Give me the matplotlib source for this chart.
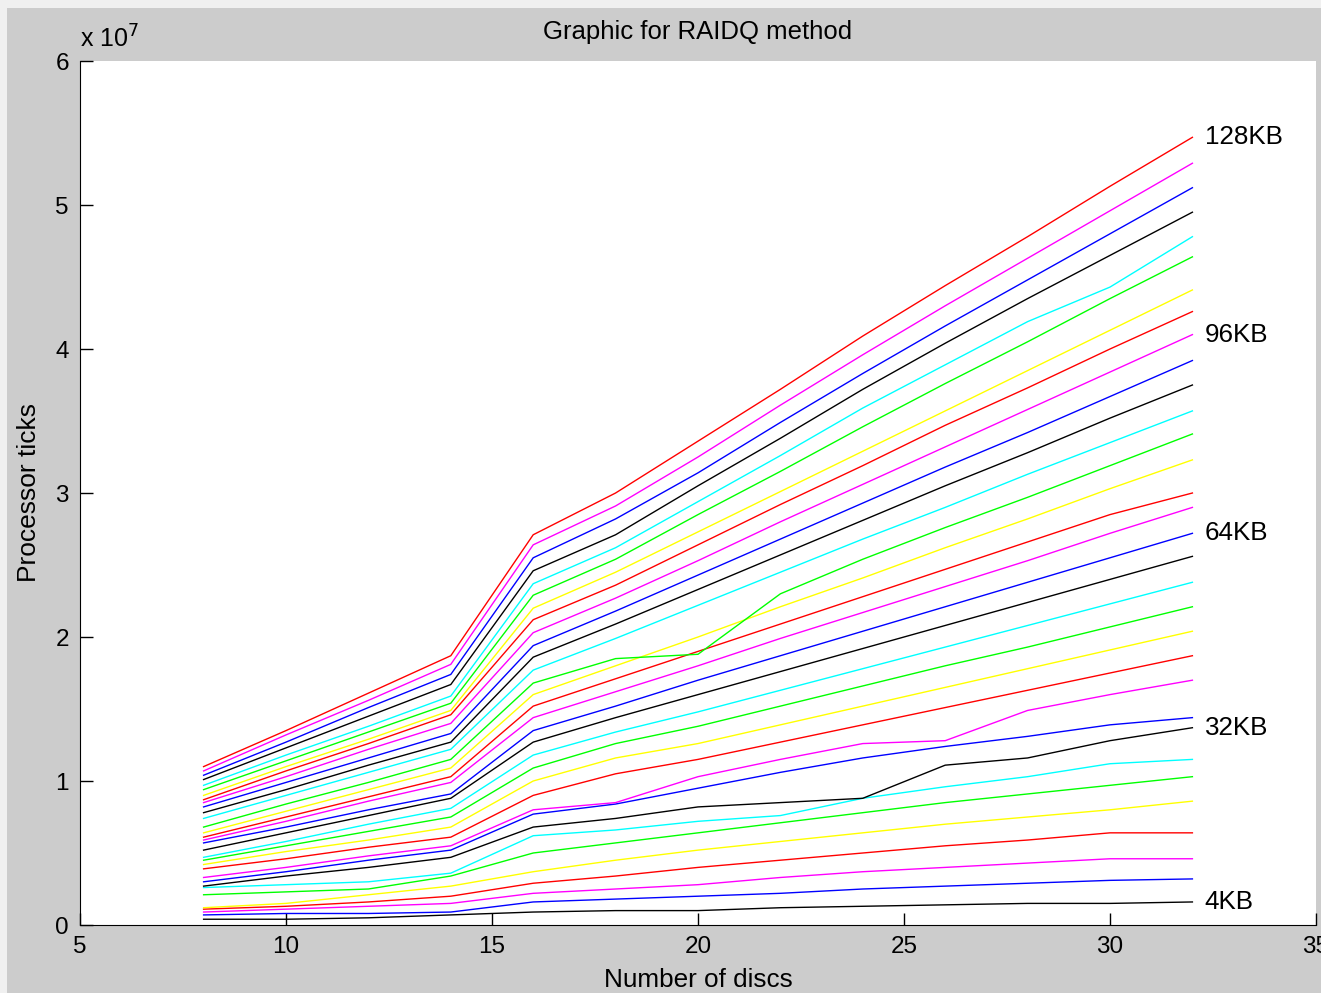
import matplotlib
matplotlib.use('Agg')
import matplotlib.pyplot as plt
from matplotlib.patches import Rectangle

plt.rcParams['font.family'] = ['Liberation Sans', 'DejaVu Sans']
plt.rcParams['font.size'] = 17

# number of discs
discs = [8, 10, 12, 14, 16, 18, 20, 22, 24, 26, 28, 30, 32]

# block sizes 4KB .. 128KB
block_kb = list(range(4, 132, 4))

# processor ticks in units of 1e7, one row per block size (4KB first)
ticks_1e7 = [
    [0.04, 0.04, 0.05, 0.07, 0.09, 0.10, 0.10, 0.12, 0.13, 0.14, 0.15, 0.15, 0.16],
    [0.07, 0.08, 0.08, 0.09, 0.16, 0.18, 0.20, 0.22, 0.25, 0.27, 0.29, 0.31, 0.32],
    [0.09, 0.11, 0.13, 0.15, 0.22, 0.25, 0.28, 0.33, 0.37, 0.40, 0.43, 0.46, 0.46],
    [0.11, 0.13, 0.16, 0.20, 0.29, 0.34, 0.40, 0.45, 0.50, 0.55, 0.59, 0.64, 0.64],
    [0.12, 0.15, 0.21, 0.27, 0.37, 0.45, 0.52, 0.58, 0.64, 0.70, 0.75, 0.80, 0.86],
    [0.21, 0.23, 0.25, 0.34, 0.50, 0.57, 0.64, 0.71, 0.78, 0.85, 0.91, 0.97, 1.03],
    [0.26, 0.28, 0.30, 0.36, 0.62, 0.66, 0.72, 0.76, 0.88, 0.96, 1.03, 1.12, 1.15],
    [0.27, 0.34, 0.40, 0.47, 0.68, 0.74, 0.82, 0.85, 0.88, 1.11, 1.16, 1.28, 1.37],
    [0.30, 0.37, 0.45, 0.52, 0.77, 0.84, 0.95, 1.06, 1.16, 1.24, 1.31, 1.39, 1.44],
    [0.33, 0.40, 0.48, 0.55, 0.80, 0.85, 1.03, 1.15, 1.26, 1.28, 1.49, 1.60, 1.70],
    [0.39, 0.46, 0.54, 0.61, 0.90, 1.05, 1.15, 1.27, 1.39, 1.51, 1.63, 1.75, 1.87],
    [0.42, 0.51, 0.59, 0.68, 1.00, 1.16, 1.26, 1.39, 1.52, 1.65, 1.78, 1.91, 2.04],
    [0.45, 0.55, 0.65, 0.75, 1.09, 1.26, 1.38, 1.52, 1.66, 1.80, 1.93, 2.07, 2.21],
    [0.47, 0.58, 0.70, 0.81, 1.18, 1.34, 1.48, 1.63, 1.78, 1.93, 2.08, 2.23, 2.38],
    [0.52, 0.64, 0.76, 0.88, 1.27, 1.44, 1.60, 1.76, 1.92, 2.08, 2.24, 2.40, 2.56],
    [0.57, 0.68, 0.80, 0.91, 1.35, 1.52, 1.70, 1.87, 2.04, 2.21, 2.38, 2.55, 2.72],
    [0.59, 0.72, 0.86, 0.99, 1.44, 1.62, 1.80, 1.99, 2.17, 2.35, 2.53, 2.72, 2.90],
    [0.61, 0.75, 0.89, 1.03, 1.52, 1.71, 1.90, 2.09, 2.28, 2.47, 2.66, 2.85, 3.00],
    [0.64, 0.79, 0.94, 1.09, 1.60, 1.80, 2.00, 2.21, 2.41, 2.62, 2.82, 3.03, 3.23],
    [0.68, 0.84, 0.99, 1.15, 1.68, 1.85, 1.88, 2.30, 2.54, 2.76, 2.97, 3.19, 3.41],
    [0.74, 0.90, 1.06, 1.22, 1.77, 1.99, 2.22, 2.45, 2.68, 2.90, 3.13, 3.35, 3.57],
    [0.78, 0.94, 1.11, 1.27, 1.86, 2.09, 2.33, 2.57, 2.81, 3.05, 3.28, 3.52, 3.75],
    [0.82, 0.99, 1.16, 1.33, 1.94, 2.18, 2.43, 2.68, 2.93, 3.18, 3.42, 3.67, 3.92],
    [0.85, 1.03, 1.22, 1.40, 2.03, 2.27, 2.53, 2.80, 3.06, 3.32, 3.58, 3.84, 4.10],
    [0.87, 1.07, 1.26, 1.46, 2.12, 2.36, 2.64, 2.92, 3.19, 3.47, 3.73, 4.00, 4.26],
    [0.90, 1.10, 1.29, 1.49, 2.20, 2.45, 2.73, 3.01, 3.29, 3.57, 3.85, 4.13, 4.41],
    [0.94, 1.14, 1.34, 1.54, 2.29, 2.54, 2.85, 3.15, 3.46, 3.76, 4.05, 4.35, 4.64],
    [0.97, 1.18, 1.38, 1.59, 2.37, 2.62, 2.94, 3.26, 3.59, 3.89, 4.19, 4.43, 4.78],
    [1.01, 1.23, 1.45, 1.67, 2.46, 2.71, 3.05, 3.38, 3.72, 4.04, 4.35, 4.65, 4.95],
    [1.04, 1.27, 1.51, 1.74, 2.55, 2.82, 3.14, 3.49, 3.83, 4.16, 4.48, 4.80, 5.12],
    [1.07, 1.32, 1.56, 1.81, 2.64, 2.91, 3.25, 3.61, 3.96, 4.30, 4.63, 4.96, 5.29],
    [1.10, 1.35, 1.61, 1.87, 2.71, 3.00, 3.36, 3.72, 4.09, 4.44, 4.78, 5.13, 5.47],
]

labelled_kb = [4, 32, 64, 96, 128]

# matlab style colour order k b m r y g c
line_colors = ['#000000', '#0000ff', '#ff00ff', '#ff0000', '#ffff00', '#00ff00', '#00ffff']

fig = plt.figure(figsize=(13.21, 9.93), dpi=100)
fig.patch.set_facecolor('#f0f0f0')
fig.patches.append(Rectangle((7 / 1321, 0), 1, (993 - 8) / 993, transform=fig.transFigure,
                             facecolor='#cccccc', edgecolor='none', zorder=-10))

ax = fig.add_axes([80 / 1321, (993 - 925) / 993, 1236 / 1321, 864 / 993])
ax.set_zorder(1)
ax.set_facecolor('white')

for i, row in enumerate(ticks_1e7):
    ax.plot(discs, row, color=line_colors[i % 7], linewidth=1.0)

for kb in labelled_kb:
    i = block_kb.index(kb)
    ax.text(32.3, ticks_1e7[i][-1], f'{kb}KB', va='center', ha='left', fontsize=18.7)

ax.set_xlim(5, 35)
ax.set_ylim(0, 6)
ax.set_xticks([5, 10, 15, 20, 25, 30, 35])
ax.set_yticks([0, 1, 2, 3, 4, 5, 6])
ax.tick_params(direction='in', length=9, width=1, pad=8, labelsize=17.5)
ax.spines['top'].set_visible(False)
ax.spines['right'].set_visible(False)
ax.text(0, 1.01, r'x 10$^{7}$', transform=ax.transAxes, ha='left', va='bottom', fontsize=18)

ax.set_title('Graphic for RAIDQ method', fontsize=18.5, pad=15.5)
ax.set_xlabel('Number of discs', fontsize=18.8, labelpad=7)
ax.set_ylabel('Processor ticks', fontsize=19, labelpad=10)

plt.savefig('out.png', dpi=100, facecolor=fig.get_facecolor())
